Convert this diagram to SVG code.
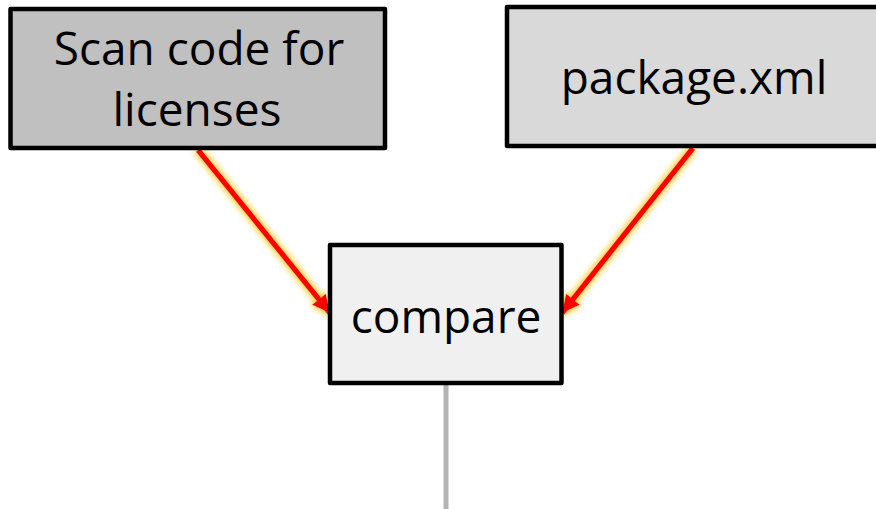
<svg xmlns="http://www.w3.org/2000/svg" width="876" height="509" viewBox="0 0 876 509">
<defs>
<style>
.box{stroke:#000;stroke-width:4.5;stroke-linejoin:round}
.lbl{font-family:"Open Sans","Noto Sans","Liberation Sans",sans-serif;font-size:46px;fill:#000;text-anchor:middle}
.arr{stroke:#ff0000;stroke-width:5.5;fill:none}
</style>
<filter id="glow" x="-20%" y="-20%" width="140%" height="140%">
<feGaussianBlur in="SourceAlpha" stdDeviation="3.5" result="b"/>
<feFlood flood-color="#ffc832" flood-opacity="1"/>
<feComposite in2="b" operator="in" result="g"/>
<feMerge><feMergeNode in="g"/><feMergeNode in="g"/><feMergeNode in="SourceGraphic"/></feMerge>
</filter>
<marker id="ah" viewBox="0 0 10 10" refX="10" refY="5" markerWidth="3.6" markerHeight="3.2" orient="auto" markerUnits="strokeWidth">
<path d="M0,0 L10,5 L0,10 z" fill="#ff0000"/>
</marker>
</defs>
<rect width="876" height="509" fill="#fff"/>
<g id="connectors">
<line x1="446" y1="385" x2="446" y2="509" stroke="#b3b3b3" stroke-width="5"/>
<g filter="url(#glow)">
<line class="arr" x1="198" y1="150" x2="330" y2="313" marker-end="url(#ah)"/>
<line class="arr" x1="693" y1="148" x2="562" y2="313" marker-end="url(#ah)"/>
</g>
</g>
<g id="scan">
<rect class="box" x="10.5" y="9" width="374.5" height="139" fill="#c0c0c0"/>
<text class="lbl" x="199" y="65">Scan code for</text>
<text class="lbl" x="197" y="126">licenses</text>
</g>
<g id="package">
<rect class="box" x="507" y="7" width="380" height="139" fill="#d9d9d9"/>
<text class="lbl" x="694" y="94">package.xml</text>
</g>
<g id="compare">
<rect class="box" x="330" y="245" width="231.5" height="138" fill="#f0f0f0"/>
<text class="lbl" x="446" y="333">compare</text>
</g>
</svg>
